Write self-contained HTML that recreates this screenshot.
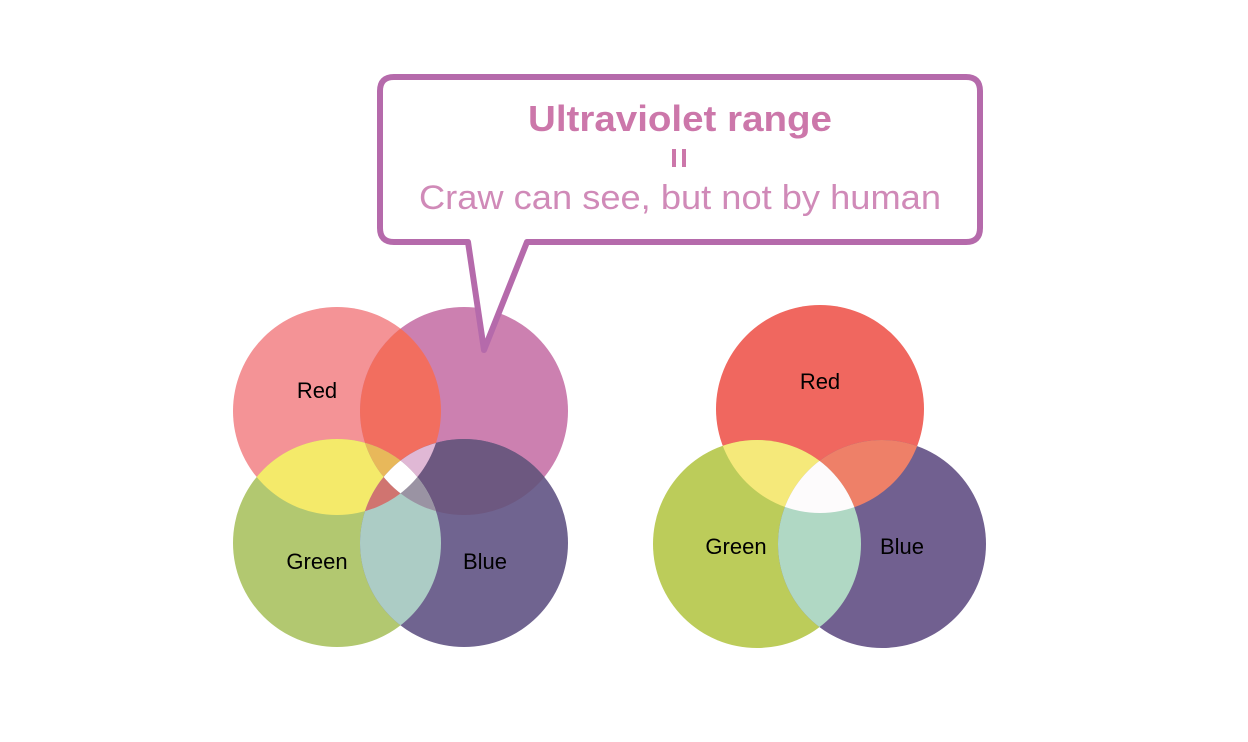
<!DOCTYPE html>
<html><head><meta charset="utf-8"><style>
html,body{margin:0;padding:0;background:#fff;}
svg{display:block;}
text{font-family:"Liberation Sans",sans-serif;}
</style></head><body>
<svg width="1248" height="742" viewBox="0 0 1248 742" xmlns="http://www.w3.org/2000/svg">
<defs>
<clipPath id="cR"><circle cx="337" cy="411" r="104"/></clipPath>
<clipPath id="cP"><circle cx="464" cy="411" r="104"/></clipPath>
<clipPath id="cG"><circle cx="337" cy="543" r="104"/></clipPath>
<clipPath id="cB"><circle cx="464" cy="543" r="104"/></clipPath>
<clipPath id="dR"><circle cx="820" cy="409" r="104"/></clipPath>
<clipPath id="dG"><circle cx="757" cy="544" r="104"/></clipPath>
<clipPath id="dB"><circle cx="882" cy="544" r="104"/></clipPath>
</defs>
<rect width="1248" height="742" fill="#fff"/>
<circle cx="337" cy="411" r="104" fill="#f49396"/>
<circle cx="464" cy="411" r="104" fill="#cc80b0"/>
<circle cx="337" cy="543" r="104" fill="#b2c870"/>
<circle cx="464" cy="543" r="104" fill="#706490"/>
<g clip-path="url(#cR)"><circle cx="464" cy="411" r="104" fill="#f26e5f"/><circle cx="337" cy="543" r="104" fill="#f4ea6a"/><circle cx="464" cy="543" r="104" fill="#d07470"/></g>
<g clip-path="url(#cP)"><circle cx="464" cy="543" r="104" fill="#6d5880"/><circle cx="337" cy="543" r="104" fill="#9a93a3"/></g>
<g clip-path="url(#cG)"><circle cx="464" cy="543" r="104" fill="#acccc5"/></g>
<g clip-path="url(#cR)"><g clip-path="url(#cP)"><circle cx="337" cy="543" r="104" fill="#e8b85a"/><circle cx="464" cy="543" r="104" fill="#e0b8d5"/></g></g>
<g clip-path="url(#cR)"><g clip-path="url(#cG)"><circle cx="464" cy="543" r="104" fill="#d07470"/></g></g>
<g clip-path="url(#cP)"><g clip-path="url(#cG)"><circle cx="464" cy="543" r="104" fill="#9a93a3"/></g></g>
<g clip-path="url(#cR)"><g clip-path="url(#cP)"><g clip-path="url(#cG)"><circle cx="464" cy="543" r="104" fill="#ffffff"/></g></g></g>
<text x="317" y="398" font-size="22" text-anchor="middle" fill="#000">Red</text>
<text x="317" y="569" font-size="22" text-anchor="middle" fill="#000">Green</text>
<text x="485" y="569" font-size="22" text-anchor="middle" fill="#000">Blue</text>
<circle cx="820" cy="409" r="104" fill="#f0675f"/>
<circle cx="757" cy="544" r="104" fill="#bccc5a"/>
<circle cx="882" cy="544" r="104" fill="#716090"/>
<g clip-path="url(#dR)"><circle cx="757" cy="544" r="104" fill="#f5e97a"/><circle cx="882" cy="544" r="104" fill="#ee8068"/></g>
<g clip-path="url(#dG)"><circle cx="882" cy="544" r="104" fill="#b0d8c4"/></g>
<g clip-path="url(#dR)"><g clip-path="url(#dG)"><circle cx="882" cy="544" r="104" fill="#fdfbfc"/></g></g>
<text x="820" y="389" font-size="22" text-anchor="middle" fill="#000">Red</text>
<text x="736" y="554" font-size="22" text-anchor="middle" fill="#000">Green</text>
<text x="902" y="554" font-size="22" text-anchor="middle" fill="#000">Blue</text>
<path d="M394,77 H966 Q980,77 980,91 V228 Q980,242 966,242 H527 L484,350 L468,242 H394 Q380,242 380,228 V91 Q380,77 394,77 Z" fill="#fff" stroke="#b56aab" stroke-width="6" stroke-linejoin="round"/>
<text x="680" y="131" font-size="36" font-weight="bold" text-anchor="middle" fill="#cc77aa" textLength="304" lengthAdjust="spacingAndGlyphs">Ultraviolet range</text>
<rect x="672" y="149" width="4" height="18" fill="#cc77aa"/>
<rect x="682" y="149" width="4" height="18" fill="#cc77aa"/>
<text x="680" y="209" font-size="34" text-anchor="middle" fill="#d08ab8" textLength="522" lengthAdjust="spacingAndGlyphs">Craw can see, but not by human</text>
</svg>
</body></html>
